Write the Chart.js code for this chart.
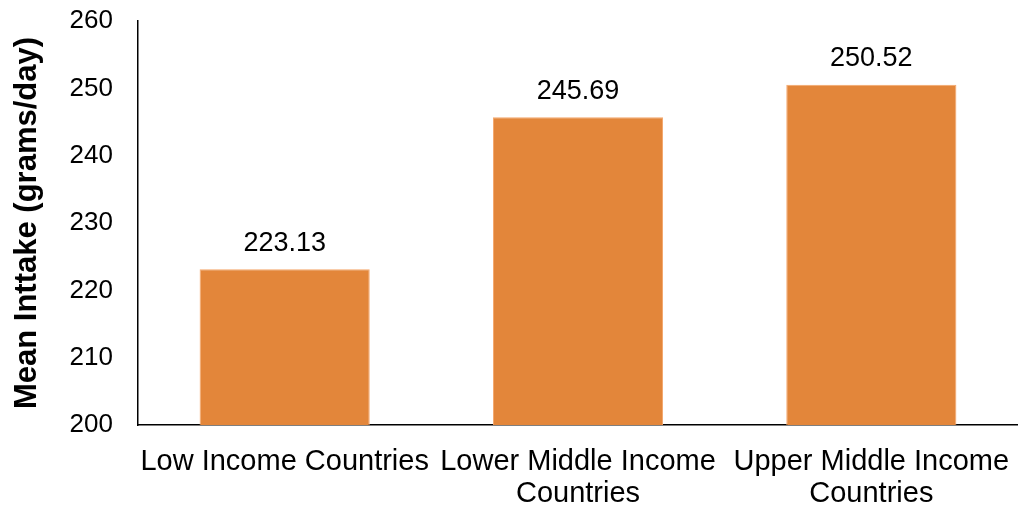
<!DOCTYPE html>
<html>
<head>
<meta charset="utf-8">
<script src="https://cdn.jsdelivr.net/npm/chart.js@4"></script>
<style>
  html, body { margin: 0; padding: 0; background: #fff; }
  #wrap { width: 1018px; height: 512px; }
</style>
</head>
<body>
<div id="wrap"><canvas id="myChart" width="1018" height="512"></canvas></div>
<script>
// データ
var categories = [
  ['Low Income Countries'],
  ['Lower Middle Income', 'Countries'],
  ['Upper Middle Income', 'Countries']
];
var meanIntake = [223.13, 245.69, 250.52];
var yTicks = [200, 210, 220, 230, 240, 250, 260];

var FONT = '"Liberation Sans", Arial, sans-serif';

// 棒の上に値を描く
var valueLabels = {
  id: 'valueLabels',
  afterDatasetsDraw: function(chart) {
    var ctx = chart.ctx;
    var meta = chart.getDatasetMeta(0);
    ctx.save();
    ctx.font = '27px ' + FONT;
    ctx.fillStyle = '#000';
    ctx.textAlign = 'center';
    ctx.textBaseline = 'middle';
    meta.data.forEach(function(bar, i) {
      ctx.fillText(meanIntake[i].toFixed(2), bar.x, bar.y - 26);
    });
    ctx.restore();
  }
};

var ctx = document.getElementById('myChart');
var myChart = new Chart(ctx, {
  type: 'bar',
  data: {
    labels: categories,
    datasets: [{
      data: meanIntake,
      backgroundColor: '#E3863A',
      borderColor: '#F5A66A',
      borderWidth: 1,
      categoryPercentage: 1,
      barPercentage: 0.58
    }]
  },
  options: {
    responsive: false,
    animation: false,
    layout: { padding: { top: 21, right: 0, left: 0, bottom: 0 } },
    plugins: { legend: { display: false }, tooltip: { enabled: false } },
    scales: {
      x: {
        grid: { display: false, drawTicks: false },
        border: { display: true, color: '#000', width: 1.5 },
        ticks: {
          color: '#000',
          font: { family: FONT, size: 29, lineHeight: 1.1 },
          padding: 21,
          maxRotation: 0,
          autoSkip: false
        },
        afterFit: function(scale) {
          scale.height = 87;
          scale.paddingLeft = 0;
          scale.paddingRight = 0;
        }
      },
      y: {
        min: yTicks[0],
        max: yTicks[yTicks.length - 1],
        grid: { display: false, drawTicks: false },
        border: { display: true, color: '#000', width: 1.5 },
        ticks: {
          stepSize: 10,
          color: '#000',
          padding: 25,
          font: { family: FONT, size: 26 }
        },
        title: {
          display: true,
          text: 'Mean Inttake (grams/day)',
          color: '#000',
          padding: { top: 9, bottom: 0 },
          font: { family: FONT, size: 31, weight: 'bold' }
        },
        afterFit: function(scale) {
          scale.width = 138;
          scale.paddingTop = 0;
          scale.paddingBottom = 0;
        }
      }
    }
  },
  plugins: [valueLabels]
});
</script>
</body>
</html>
